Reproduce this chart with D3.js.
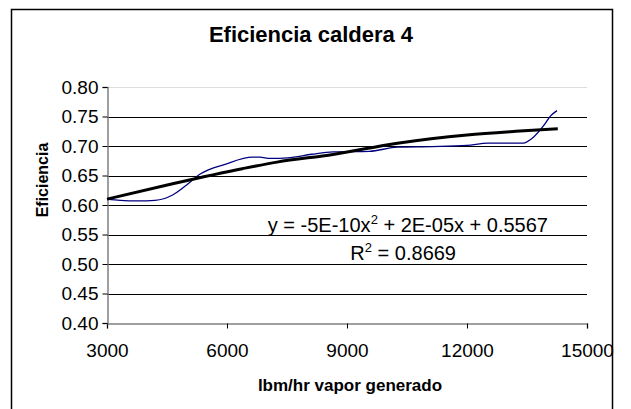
<!DOCTYPE html>
<html>
<head>
<meta charset="utf-8">
<script src="https://cdn.jsdelivr.net/npm/d3@7"></script>
<style>
  body { margin: 0; background: #fff; }
  text { font-family: Arial, "Liberation Sans", sans-serif; }
</style>
</head>
<body>
<svg id="chart" width="631" height="409"></svg>
<script>
// Chart data
var flowValues = [3000, 3330, 3770, 4200, 4640, 4990, 5340, 5950, 6640, 6820, 7080, 7520, 8120, 8650, 9560, 10260, 11130, 12000, 12520, 13400, 13660, 13920, 14090, 14250];
var effValues  = [0.610, 0.608, 0.607, 0.608, 0.617, 0.634, 0.653, 0.669, 0.681, 0.681, 0.679, 0.680, 0.686, 0.690, 0.691, 0.698, 0.699, 0.701, 0.705, 0.705, 0.715, 0.735, 0.751, 0.760];

// polynomial trendline as drawn
var trendX = [3000, 4640, 6380, 7250, 8650, 10260, 12000, 13220, 14270];
var trendY = [0.610, 0.636, 0.6615, 0.6727, 0.6857, 0.7048, 0.7188, 0.725, 0.7294];

var xTicks = [3000, 6000, 9000, 12000, 15000];
var yTicks = [0.40, 0.45, 0.50, 0.55, 0.60, 0.65, 0.70, 0.75, 0.80];

var titleText = "Eficiencia caldera 4";
var xTitle = "lbm/hr vapor generado";
var yTitle = "Eficiencia";
var eqLine = ["y = -5E-10x", "2", " + 2E-05x + 0.5567"];
var r2Line = ["R", "2", " = 0.8669"];

var svg = d3.select("#chart");
var plot = { left: 107, right: 587, top: 87, bottom: 323 };

// chart frame
svg.append("rect")
    .attr("x", 11.5).attr("y", 9.5)
    .attr("width", 601).attr("height", 420)
    .attr("fill", "#fff")
    .attr("stroke", "#000")
    .attr("stroke-width", 1.5);

var x = d3.scaleLinear().domain([3000, 15000]).range([plot.left, plot.right]);
var y = d3.scaleLinear().domain([0.40, 0.80]).range([plot.bottom, plot.top]);

// gridlines
svg.append("g")
    .selectAll("line")
    .data(yTicks.slice(1))
    .enter()
    .append("line")
    .attr("x1", plot.left).attr("x2", plot.right)
    .attr("y1", d => Math.round(y(d)) + 0.5)
    .attr("y2", d => Math.round(y(d)) + 0.5)
    .attr("stroke", d => d === 0.80 ? "#ddd" : "#000")
    .attr("stroke-width", 1);

// axes
var xAxis = svg.append("g")
    .attr("transform", "translate(0," + (plot.bottom + 0.5) + ")")
    .call(d3.axisBottom(x).tickValues(xTicks).tickSize(5).tickPadding(15).tickFormat(d3.format("d")));
var yAxis = svg.append("g")
    .attr("transform", "translate(" + (plot.left + 0.5) + ",0)")
    .call(d3.axisLeft(y).tickValues(yTicks).tickSize(5).tickPadding(4).tickFormat(d3.format(".2f")));

[xAxis, yAxis].forEach(function (g) {
    g.select(".domain").attr("stroke", "#808080").attr("stroke-width", 1.5);
    g.selectAll(".tick line").attr("stroke", "#000");
    g.selectAll("text")
        .attr("font-size", "19px")
        .attr("fill", "#000")
        .style("font-family", "Arial, 'Liberation Sans', sans-serif");
});

// data line
var line = d3.line()
    .x(function (d, i) { return x(flowValues[i]); })
    .y(function (d) { return y(d); })
    .curve(d3.curveMonotoneX);

svg.append("path")
    .datum(effValues)
    .attr("fill", "none")
    .attr("stroke", "#000080")
    .attr("stroke-width", 1.3)
    .attr("d", line);

// trendline
var trend = d3.line()
    .x(function (d, i) { return x(trendX[i]); })
    .y(function (d) { return y(d); })
    .curve(d3.curveMonotoneX);

svg.append("path")
    .datum(trendY)
    .attr("fill", "none")
    .attr("stroke", "#000")
    .attr("stroke-width", 3)
    .attr("d", trend);

// titles
svg.append("text")
    .attr("x", 311).attr("y", 42)
    .attr("text-anchor", "middle")
    .attr("font-size", "22px")
    .attr("font-weight", "bold")
    .text(titleText);

svg.append("text")
    .attr("x", 350).attr("y", 391)
    .attr("text-anchor", "middle")
    .attr("font-size", "17px")
    .attr("font-weight", "bold")
    .text(xTitle);

svg.append("text")
    .attr("transform", "translate(48," + 180 + ") rotate(-90)")
    .attr("text-anchor", "middle")
    .attr("font-size", "16px")
    .attr("font-weight", "bold")
    .text(yTitle);

// trendline label
function supText(parts, xr, yb) {
    var t = svg.append("text")
        .attr("x", xr).attr("y", yb)
        .attr("text-anchor", "end")
        .attr("font-size", "20px");
    t.append("tspan").text(parts[0]);
    t.append("tspan").attr("dy", -8).attr("font-size", "13px").text(parts[1]);
    t.append("tspan").attr("dy", 8).text(parts[2]);
}
supText(eqLine, 548, 232);
supText(r2Line, 456, 260);
</script>
</body>
</html>
